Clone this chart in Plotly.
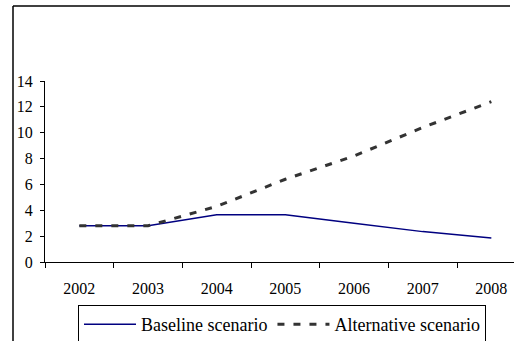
import plotly.graph_objects as go

years = ["2002", "2003", "2004", "2005", "2006", "2007", "2008"]
baseline = [2.8, 2.8, 3.65, 3.65, 3.0, 2.35, 1.85]
alternative = [2.8, 2.8, 4.3, 6.4, 8.2, 10.4, 12.4]
y_ticks = [0, 2, 4, 6, 8, 10, 12, 14]

W, H = 514, 341
L, R, T, B = 45, 0, 81, 79
pw, ph = W - L - R, H - T - B

def px_x(p):
    return (p - L) / pw

def px_y(p):
    return (H - B - p) / ph

xs = list(range(len(years)))
font = dict(family="Liberation Serif, Times New Roman, serif", size=16, color="black")
lfont = dict(family="Liberation Serif, Times New Roman, serif", size=18, color="black")

fig = go.Figure()
fig.add_trace(go.Scatter(x=xs, y=baseline, mode="lines", name="Baseline scenario",
                         line=dict(color="#000080", width=1.5)))
fig.add_trace(go.Scatter(x=xs, y=alternative, mode="lines", name="Alternative scenario",
                         line=dict(color="#333333", width=3, dash="7px,9px")))

fig.update_layout(
    width=W, height=H, autosize=False,
    margin=dict(l=L, r=R, t=T, b=B, pad=0),
    paper_bgcolor="white", plot_bgcolor="white",
    font=font,
    showlegend=True,
    legend=dict(orientation="h", xref="container", yref="container",
                x=78 / W, y=1 - 305 / H, xanchor="left", yanchor="top",
                bordercolor="black", borderwidth=1, font=lfont, bgcolor="white",
                tracegroupgap=0, itemwidth=52),
    xaxis=dict(range=[-0.5, 6.33], tickmode="array", tickvals=xs, ticktext=years,
               ticks="outside", ticklen=12, tickcolor="rgba(0,0,0,0)",
               showline=True, linecolor="black", linewidth=1, showgrid=False, zeroline=False,
               minor=dict(tickmode="linear", tick0=-0.5, dtick=1, ticks="outside",
                          ticklen=5, tickcolor="black", showgrid=False),
               tickfont=font, fixedrange=True),
    yaxis=dict(range=[0, 14], tickmode="array", tickvals=y_ticks,
               ticks="outside", ticklen=4, tickcolor="black", ticklabelstandoff=4,
               showline=True, linecolor="black", linewidth=1, showgrid=False, zeroline=False,
               tickfont=font, fixedrange=True),
)

# outer chart frame (left and top edges)
fig.add_shape(type="line", xref="paper", yref="paper",
              x0=px_x(13), x1=px_x(13), y0=px_y(6), y1=px_y(341),
              line=dict(color="black", width=1.5))
fig.add_shape(type="line", xref="paper", yref="paper",
              x0=px_x(13), x1=px_x(510), y0=px_y(6), y1=px_y(6),
              line=dict(color="black", width=1.5))

fig.write_html("out.html")
